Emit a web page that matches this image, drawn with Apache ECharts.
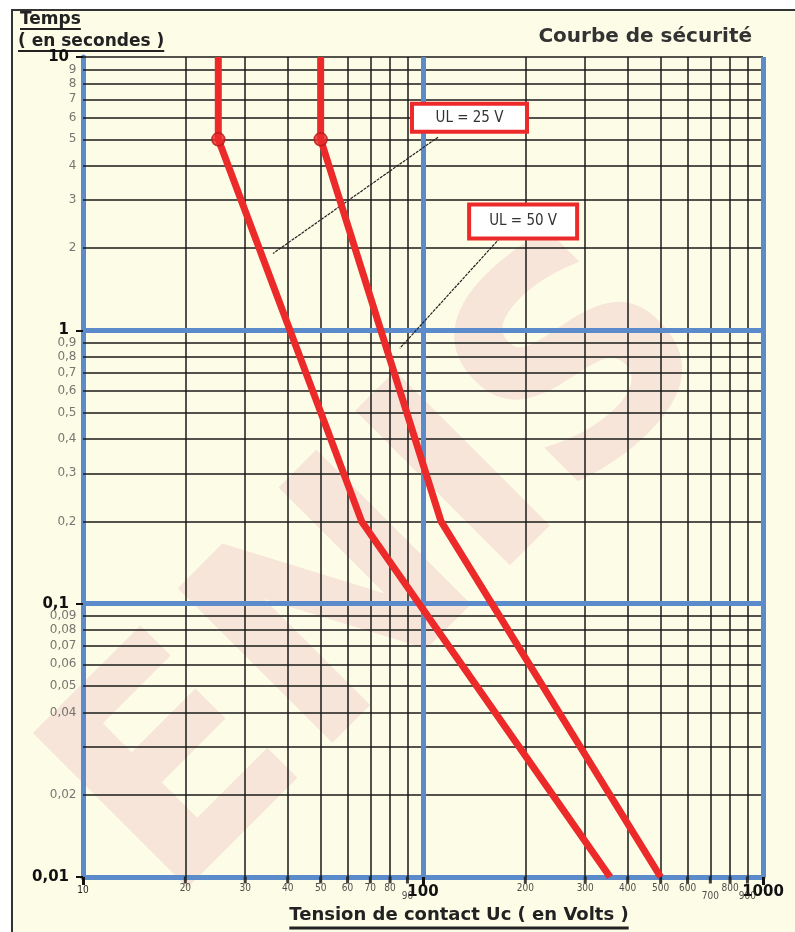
<!DOCTYPE html>
<html><head><meta charset="utf-8">
<script src="https://cdn.jsdelivr.net/npm/echarts@6/dist/echarts.min.js"></script>
<style>html,body{margin:0;padding:0;background:#fff}#c{width:795px;height:932px}</style>
</head><body><div id="c"></div>
<script>
// ---- data ----
const ul25 = [[25, 10], [25, 5], [66, 0.2], [355, 0.01]];
const ul50 = [[50, 10], [50, 5], [113, 0.2], [500, 0.01]];
const xGridValues = [20, 30, 40, 50, 60, 70, 80, 90, 200, 300, 400, 500, 600, 700, 800, 900];
const yGridValues = [10, 9, 8, 7, 6, 5, 4, 3, 2, 0.9, 0.8, 0.7, 0.6, 0.5, 0.4, 0.3, 0.2,
                     0.09, 0.08, 0.07, 0.06, 0.05, 0.04, 0.03, 0.02];
const xDecadeLines = [100, 1000];
const yDecadeLines = [1, 0.1];
const xMinorLabels = [20, 30, 40, 50, 60, 70, 80, 90, 200, 300, 400, 500, 600, 700, 800, 900];
const yMinorLabels = [9, 8, 7, 6, 5, 4, 3, 2, 0.9, 0.8, 0.7, 0.6, 0.5, 0.4, 0.3, 0.2,
                      0.09, 0.08, 0.07, 0.06, 0.05, 0.04, 0.02];
const boxTexts = ['UL = 25 V', 'UL = 50 V'];
const boxAnchors = [[137, 6.0], [197, 2.5]];
const arrowFrom = [[110.7, 5.09], [168, 2.17]];
const arrowTo = [[36.2, 1.91], [85.5, 0.86]];
const kneePoints = [ul25[1], ul50[1]];

// ---- styles ----
const FONT = 'DejaVu Sans';
const COND = 'DejaVu Sans Condensed';
const CREAM = '#fdfce7';
const BLUE = '#5b8bcb';
const RED = '#ec2a2a';
const lowered = [90, 700, 900];
const boxInner = [[111, 24], [104, 30]];
const fmt = v => String(Number(Number(v).toPrecision(6))).replace('.', ',');

const measure = (txt, font) => {
  const ctx = document.createElement('canvas').getContext('2d');
  ctx.font = font; return ctx.measureText(txt).width;
};
const t1 = 'Temps', t2 = '( en secondes )', t3 = 'Tension de contact Uc ( en Volts )';
const f12 = 'bold 17px "DejaVu Sans"', f3 = 'bold 18px "DejaVu Sans"';
const w1 = measure(t1, f12), w2 = measure(t2, f12), w3 = measure(t3, f3);
const x3 = 459 - w3 / 2;

const chart = echarts.init(document.getElementById('c'));
const option = {
  animation: false,
  backgroundColor: '#ffffff',
  title: {
    text: 'Courbe de sécurité', right: 38, top: 22,
    textStyle: {fontFamily: FONT, fontWeight: 'bold', fontSize: 20, color: '#333'}
  },
  graphic: [
    {type: 'rect', z: -100, shape: {x: 12, y: 10, width: 800, height: 940},
     style: {fill: CREAM, stroke: '#333', lineWidth: 2}},
    {type: 'text', z: -50, x: 390, y: 575, rotation: Math.PI / 4,
     style: {text: 'ENIS', font: 'bold 300px "DejaVu Sans"', fill: 'rgba(200,80,115,0.13)',
             align: 'center', verticalAlign: 'middle'}},
    {type: 'text', x: 20, y: 11, style: {text: t1, font: f12, fill: '#222'}},
    {type: 'line', shape: {x1: 20, y1: 29, x2: 20 + w1, y2: 29}, style: {stroke: '#222', lineWidth: 2}},
    {type: 'text', x: 18, y: 33, style: {text: t2, font: f12, fill: '#222'}},
    {type: 'line', shape: {x1: 18, y1: 51, x2: 18 + w2, y2: 51}, style: {stroke: '#222', lineWidth: 2}},
    {type: 'text', x: x3, y: 906, style: {text: t3, font: f3, fill: '#222'}},
    {type: 'line', shape: {x1: x3, y1: 928, x2: x3 + w3, y2: 928}, style: {stroke: '#222', lineWidth: 3}}
  ],
  grid: {left: 83, right: 32, top: 57, bottom: 55},
  xAxis: {
    type: 'log', logBase: 10, min: 10, max: 1000,
    axisLine: {show: true, onZero: false, lineStyle: {color: BLUE, width: 5}},
    axisTick: {show: true, length: 8, lineStyle: {color: '#111', width: 3}},
    axisLabel: {
      margin: 8,
      formatter: v => (Math.abs(v - 10) < 1e-6 ? '{n|10}' : '{b|' + fmt(v) + '}'),
      rich: {
        n: {fontFamily: COND, fontSize: 10, color: '#222'},
        b: {fontFamily: FONT, fontWeight: 'bold', fontSize: 15, color: '#111'}
      }
    },
    splitLine: {show: false}
  },
  yAxis: {
    type: 'log', logBase: 10, min: 0.01, max: 10,
    axisLine: {show: true, onZero: false, lineStyle: {color: BLUE, width: 5}},
    axisTick: {show: true, length: 7, lineStyle: {color: '#111', width: 2}},
    axisLabel: {
      margin: 14,
      formatter: v => '{b|' + fmt(v) + '}',
      rich: {b: {fontFamily: FONT, fontWeight: 'bold', fontSize: 15, color: '#111'}}
    },
    splitLine: {show: false}
  },
  series: [
    { // black grid
      type: 'line', data: [], z: 1, silent: true,
      markLine: {
        silent: true, symbol: 'none', label: {show: false},
        lineStyle: {color: '#1a1a1a', width: 1.5, type: 'solid'},
        data: xGridValues.map(v => ({xAxis: v})).concat(yGridValues.map(v => ({yAxis: v})))
      }
    },
    { // blue decade lines
      type: 'line', data: [], z: 2, silent: true,
      markLine: {
        silent: true, symbol: 'none', label: {show: false},
        lineStyle: {color: BLUE, width: 5, type: 'solid'},
        data: xDecadeLines.map(v => ({xAxis: v})).concat(yDecadeLines.map(v => ({yAxis: v})))
      }
    },
    { // y minor labels
      type: 'scatter', z: 3, silent: true, clip: false, symbolSize: 1,
      itemStyle: {color: 'rgba(0,0,0,0)'},
      data: yMinorLabels.map(v => [10, v]),
      label: {show: true, position: 'left', distance: 6, formatter: p => fmt(p.value[1]),
              fontFamily: FONT, fontSize: 12, color: '#555'}
    },
    { // x minor labels
      type: 'scatter', z: 3, silent: true, clip: false, symbolSize: 1,
      itemStyle: {color: 'rgba(0,0,0,0)'},
      data: xMinorLabels.map(v => [v, 0.01]),
      label: {show: true, position: 'bottom', distance: 6,
              formatter: p => (lowered.indexOf(p.value[0]) >= 0 ? '{lo|' : '{n|') + fmt(p.value[0]) + '}',
              rich: {
                n: {fontFamily: COND, fontSize: 10, color: '#222', padding: [0, 0, 0, 0]},
                lo: {fontFamily: COND, fontSize: 10, color: '#222', padding: [8, 0, 0, 0]}
              }}
    },
    { // x minor ticks
      type: 'scatter', z: 3, silent: true, clip: false, symbol: 'rect',
      symbolSize: [3, 7], symbolOffset: [0, 3], itemStyle: {color: '#111'},
      data: xMinorLabels.map(v => [v, 0.01])
    },
    {
      name: 'UL = 25 V', type: 'line', z: 5, data: ul25, showSymbol: false, symbol: 'none',
      lineStyle: {color: RED, width: 7}
    },
    {
      name: 'UL = 50 V', type: 'line', z: 5, data: ul50, showSymbol: false, symbol: 'none',
      lineStyle: {color: RED, width: 7}
    },
    {
      type: 'scatter', z: 6, data: kneePoints, symbolSize: 13,
      itemStyle: {color: RED, borderColor: '#b51818', borderWidth: 1.5}
    },
    { // annotations
      type: 'line', data: [], z: 7, silent: true,
      markLine: {
        silent: true, symbol: ['none', 'arrow'], symbolSize: [0, 11], label: {show: false},
        lineStyle: {color: '#222', width: 1.2, type: [3, 1]},
        data: arrowFrom.map((a, i) => [{coord: a}, {coord: arrowTo[i]}])
      },
      markPoint: {
        silent: true, symbol: 'circle', symbolSize: 0,
        itemStyle: {color: 'rgba(0,0,0,0)'},
        label: {show: true, position: 'inside', fontFamily: COND, fontSize: 15, color: '#333',
                backgroundColor: '#ffffff', borderColor: RED, borderWidth: 4,
                align: 'center', verticalAlign: 'middle',
                formatter: p => p.name},
        data: boxAnchors.map((a, i) => ({name: boxTexts[i], coord: a,
          label: {width: boxInner[i][0], height: boxInner[i][1], lineHeight: boxInner[i][1]}}))
      }
    }
  ]
};
chart.setOption(option);
</script>
</body></html>
